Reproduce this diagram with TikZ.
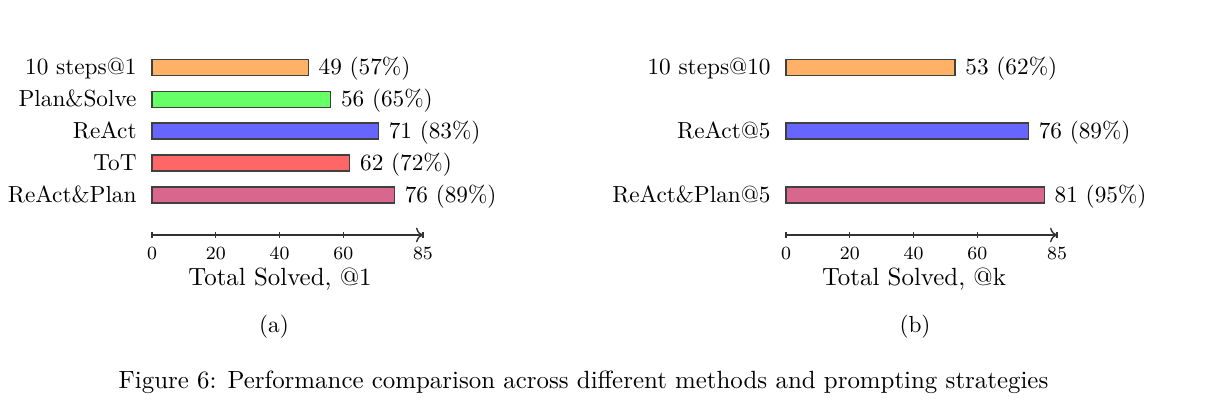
\documentclass[tikz,border=0pt]{standalone}
\usetikzlibrary{arrows.meta}

\begin{document}
\begin{tikzpicture}[x=0.43pt,y=-0.43pt,
    bar/.style={draw=black!75,line width=0.6pt},
    txt/.style={inner sep=0pt,font=\normalsize},
    bigtxt/.style={inner sep=0pt,font=\fontsize{10.7}{13}\selectfont,anchor=base},
    ticklab/.style={inner sep=0pt,font=\footnotesize,anchor=base}]
    \useasboundingbox (0,0) rectangle (1206,402);
    % left chart, @1
    \foreach \v/\p/\c/\lab/\y [count=\i] in {49/57/orange/10 steps@1/67.5,
        56/65/green/Plan\&Solve/99.5, 71/83/blue/ReAct/131,
        62/72/red/ToT/163, 76/89/purple/ReAct\&Plan/195} {
        \draw[bar,fill=\c!60] (152,\y-8) rectangle (152+\v*3.188,\y+8);
        \node[txt,anchor=base east] (lname\i) at (137,\y+7) {\lab};
        \node[txt,anchor=base west] (lval\i) at (162+\v*3.188,\y+7) {\v\ (\p\%)};
    }
    % right chart, @k
    \foreach \v/\p/\c/\lab/\y [count=\i] in {53/62/orange/10 steps@10/67.5,
        76/89/blue/ReAct@5/131, 81/95/purple/ReAct\&Plan@5/195} {
        \draw[bar,fill=\c!60] (786,\y-8) rectangle (786+\v*3.188,\y+8);
        \node[txt,anchor=base east] (rname\i) at (771,\y+7) {\lab};
        \node[txt,anchor=base west] (rval\i) at (796+\v*3.188,\y+7) {\v\ (\p\%)};
    }
    % axes
    \foreach \xo/\s in {152/l,786/r} {
        \coordinate (\s start) at (\xo,235);
        \coordinate (\s end) at (\xo+271,235);
        \draw[black!80,line width=0.6pt,-{To[length=3pt]}] (\s start) -- (\s end);
        \foreach \t in {0,20,40,60,85} {
            \draw[black!80,line width=0.6pt] (\xo+\t*3.188,232) -- (\xo+\t*3.188,238);
            \node[ticklab] (\s tick\t) at (\xo+\t*3.188,259.5) {\t};
        }
    }
    \node[bigtxt] (lxlabel) at (280,285.5) {Total Solved, @1};
    \node[bigtxt] (rxlabel) at (914,285.5) {Total Solved, @k};
    % subcaptions and caption
    \node[txt,anchor=base] (suba) at (274,332) {(a)};
    \node[txt,anchor=base] (subb) at (915,332) {(b)};
    \node[bigtxt] (caption) at (583.5,388) {Figure 6: Performance comparison across different methods and prompting strategies};
\end{tikzpicture}
\end{document}
